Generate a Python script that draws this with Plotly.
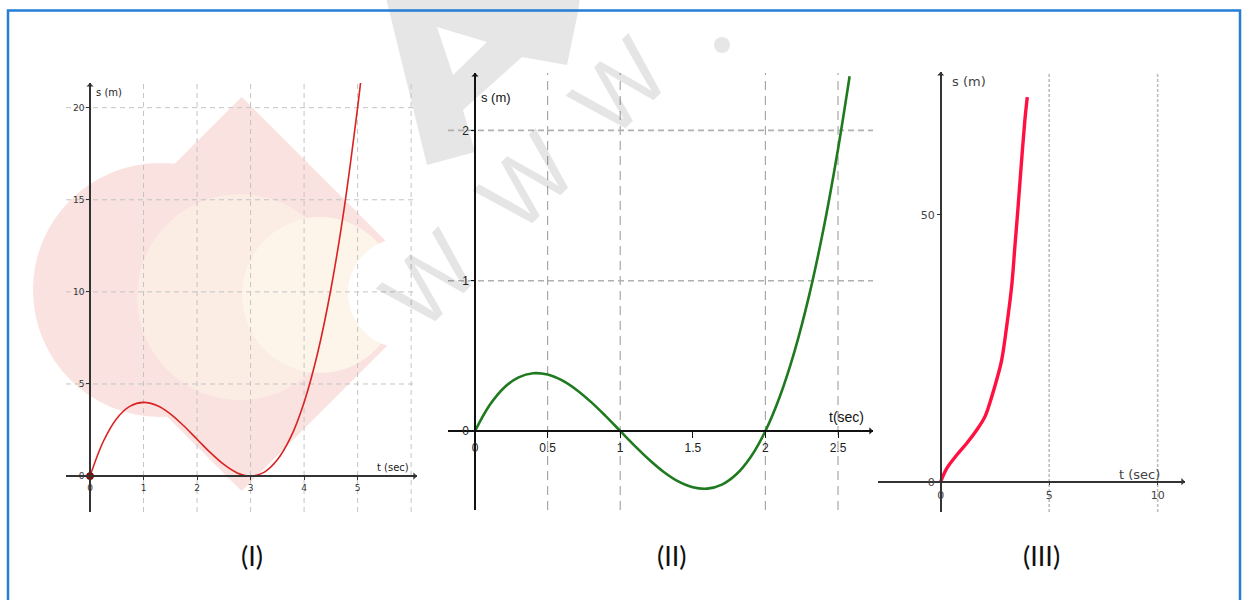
import plotly.graph_objects as go

# ---------------- data ----------------
# Panel I : s(t) in metres
t1 = [0, 0.25, 0.5, 0.75, 1, 1.25, 1.5, 1.75, 2, 2.25, 2.5, 2.75, 3, 3.25, 3.5, 3.75, 4, 4.25, 4.5, 4.75, 5, 5.06]
s1 = [0, 1.89, 3.13, 3.80, 4.0, 3.83, 3.38, 2.73, 2.0, 1.27, 0.63, 0.17, 0, 0.20, 0.88, 2.11, 4.0, 6.64, 10.13, 14.55, 20.0, 21.47]
x1_ticks = [0, 1, 2, 3, 4, 5]
x1_labels = ["0", "1", "2", "3", "4", "5"]
y1_ticks = [0, 5, 10, 15, 20]
y1_labels = ["0", "5", "10", "15", "20"]
x1_grid = [1, 2, 3, 4, 5, 6]
y1_grid = [5, 10, 15, 20]

# Panel II
t2 = [0, 0.1, 0.2, 0.3, 0.4, 0.5, 0.6, 0.7, 0.8, 0.9, 1.0, 1.1, 1.2, 1.3, 1.4, 1.5, 1.6, 1.7, 1.8, 1.9, 2.0, 2.1, 2.2, 2.3, 2.4, 2.5, 2.58]
s2 = [0, 0.171, 0.288, 0.357, 0.384, 0.375, 0.336, 0.273, 0.192, 0.099, 0, -0.099, -0.192, -0.273, -0.336, -0.375, -0.384, -0.357, -0.288, -0.171, 0, 0.231, 0.528, 0.897, 1.344, 1.875, 2.36]
x2_ticks = [0, 0.5, 1, 1.5, 2, 2.5]
x2_labels = ["0", "0.5", "1", "1.5", "2", "2.5"]
y2_ticks = [0, 1, 2]
y2_labels = ["0", "1", "2"]
x2_grid = [0.5, 1, 2, 2.5]
y2_grid = [1, 2]

# Panel III
t3 = [0, 0.28, 0.74, 1.2, 1.66, 2.04, 2.35, 2.58, 2.81, 3.04, 3.27, 3.42, 3.58, 3.73, 3.88, 3.99]
s3 = [0, 2.5, 5.0, 7.2, 9.7, 12.2, 15.9, 19.1, 22.8, 29.1, 36.6, 44.1, 52.2, 60.3, 67.8, 72.1]
x3_ticks = [0, 5, 10]
x3_labels = ["0", "5", "10"]
y3_ticks = [0, 50]
y3_labels = ["0", "50"]
x3_grid = [5, 10]

panel_names = ["(I)", "(II)", "(III)"]

# ---------------- layout helpers ----------------
W, H = 1243, 600
def px(x):
    return x / W
def py(y):
    return 1 - y / H

fig = go.Figure()

fig.add_trace(go.Scatter(x=t1, y=s1, mode="lines", line=dict(color="#d92323", width=1.6, shape="spline"),
                         xaxis="x", yaxis="y", showlegend=False, hoverinfo="skip"))
fig.add_trace(go.Scatter(x=[t1[0]], y=[s1[0]], mode="markers",
                         marker=dict(color="#c00000", size=7, line=dict(color="#7a0000", width=1)),
                         xaxis="x", yaxis="y", showlegend=False, hoverinfo="skip"))
fig.add_trace(go.Scatter(x=t2, y=s2, mode="lines", line=dict(color="#1f7a1f", width=2.6, shape="spline"),
                         xaxis="x2", yaxis="y2", showlegend=False, hoverinfo="skip"))
fig.add_trace(go.Scatter(x=t3, y=s3, mode="lines", line=dict(color="#ff1040", width=3.4, shape="spline"),
                         xaxis="x3", yaxis="y3", showlegend=False, hoverinfo="skip"))

tick_font1 = dict(family="DejaVu Sans", size=9, color="#333333")
tick_font2 = dict(family="Liberation Sans", size=12, color="#222222")
tick_font3 = dict(family="DejaVu Sans", size=11, color="#444444")

def ax(domain, rng, pos, tv, tt, font, lc, tl=3):
    return dict(domain=domain, range=rng, anchor="free", position=pos, showgrid=False, zeroline=False,
                showline=True, linecolor=lc, linewidth=1.5, ticks="outside", ticklen=tl, tickcolor=lc,
                tickvals=tv, ticktext=tt, tickfont=font, automargin=False, fixedrange=True)

fig.update_layout(
    width=W, height=H, margin=dict(l=0, r=0, t=0, b=0),
    paper_bgcolor="white", plot_bgcolor="rgba(0,0,0,0)",
    xaxis=ax([px(66), px(417)], [-0.449, 6.11], py(476), x1_ticks, x1_labels, tick_font1, "#333333"),
    yaxis=ax([py(512), py(83)], [-1.95, 21.34], px(90), y1_ticks, y1_labels, tick_font1, "#333333"),
    xaxis2=ax([px(448), px(873)], [-0.186, 2.741], py(431), x2_ticks, x2_labels, tick_font2, "#111111", 6),
    yaxis2=ax([py(510), py(73)], [-0.526, 2.382], px(475), y2_ticks, y2_labels, tick_font2, "#111111"),
    xaxis3=ax([px(878), px(1185)], [-2.89, 11.26], py(481.7), x3_ticks, x3_labels, tick_font3, "#333333"),
    yaxis3=ax([py(512), py(72)], [-5.68, 76.8], px(940.7), y3_ticks, y3_labels, tick_font3, "#333333"),
)

shapes = []
# watermark logo behind panel I
pink = "rgb(249,226,223)"
shapes.append(dict(type="circle", xref="paper", yref="paper", layer="below",
                   x0=px(33), x1=px(287), y0=py(417), y1=py(163), fillcolor=pink, line=dict(width=0)))
shapes.append(dict(type="path", xref="paper", yref="paper", layer="below",
                   path=f"M {px(241.7)},{py(97)} L {px(439)},{py(294)} L {px(241.7)},{py(491)} L {px(44)},{py(294)} Z",
                   fillcolor=pink, line=dict(width=0)))
shapes.append(dict(type="circle", xref="paper", yref="paper", layer="below",
                   x0=px(137), x1=px(343), y0=py(400), y1=py(194), fillcolor="rgb(251,236,228)", line=dict(width=0)))
shapes.append(dict(type="circle", xref="paper", yref="paper", layer="below",
                   x0=px(242), x1=px(398), y0=py(373), y1=py(217), fillcolor="rgb(253,244,234)", line=dict(width=0)))
shapes.append(dict(type="circle", xref="paper", yref="paper", layer="below",
                   x0=px(348), x1=px(458), y0=py(348), y1=py(238), fillcolor="white", line=dict(width=0)))

# gray watermark: big "A" logo outline (polygon with triangular hole) and dot
def pth(pts):
    return "M " + " L ".join(f"{px(a)},{py(b)}" for a, b in pts) + " Z"
outer = [(386, -2), (427, 165), (475, 152), (463, 110), (522, 57), (567, 65), (578, 12), (580, -2)]
hole = [(453, 75), (487, 42), (437, 27)]
shapes.append(dict(type="path", xref="paper", yref="paper", layer="below",
                   path=pth(outer) + " " + pth(hole), fillcolor="#e6e6e6", line=dict(width=0)))
shapes.append(dict(type="circle", xref="paper", yref="paper", layer="below",
                   x0=px(714), x1=px(730), y0=py(53), y1=py(37), fillcolor="#e6e6e6", line=dict(width=0)))

# grid lines from grid lists
def vgrid(vals, xr, yr, color, width, dash):
    for v in vals:
        shapes.append(dict(type="line", xref=xr, yref=yr + " domain", x0=v, x1=v, y0=0, y1=1,
                           layer="below", line=dict(color=color, width=width, dash=dash)))

def hgrid(vals, xr, yr, color, width, dash):
    for v in vals:
        shapes.append(dict(type="line", xref=xr + " domain", yref=yr, x0=0, x1=1, y0=v, y1=v,
                           layer="below", line=dict(color=color, width=width, dash=dash)))

vgrid(x1_grid, "x", "y", "#c4c4c4", 1, "5px,4px")
hgrid(y1_grid, "x", "y", "#c4c4c4", 1, "5px,4px")
vgrid(x2_grid, "x2", "y2", "#a8a8a8", 1.2, "9px,6px")
hgrid(y2_grid, "x2", "y2", "#b0b0b0", 1.6, "6px,4px")
vgrid(x3_grid, "x3", "y3", "#bdbdbd", 1.6, "3px,2px")

# outer blue frame
shapes.append(dict(type="rect", xref="paper", yref="paper", x0=px(8), x1=px(1240), y0=-0.05, y1=py(10.5),
                   line=dict(color="rgb(36,126,212)", width=2.5), fillcolor="rgba(0,0,0,0)", layer="above"))
fig.update_layout(shapes=shapes)

ann = []
# axis arrows
def arrow(xr, yr, x, y, dx, dy, color):
    ann.append(dict(xref=xr, yref=yr, x=x, y=y, ax=dx, ay=dy, axref="pixel", ayref="pixel", text="",
                    showarrow=True, arrowhead=1, arrowsize=1, arrowwidth=1.2, arrowcolor=color))

arrow("x", "y", 6.11, 0, -8, 0, "#333333")
arrow("x", "y", 0, 21.34, 0, 8, "#333333")
arrow("x2", "y2", 2.741, 0, -8, 0, "#111111")
arrow("x2", "y2", 0, 2.382, 0, 8, "#111111")
arrow("x3", "y3", 11.26, 0, -8, 0, "#333333")
arrow("x3", "y3", 0, 76.8, 0, 8, "#333333")

# axis titles
def txt(xr, yr, x, y, s, size, xanchor="center", color="#222222", family="DejaVu Sans"):
    ann.append(dict(xref=xr, yref=yr, x=x, y=y, text=s, showarrow=False, xanchor=xanchor, yanchor="middle",
                    font=dict(family=family, size=size, color=color)))

txt("x", "y", 0.08, 20.8, "s (m)", 10, "left")
txt("x", "y", 5.67, 0.45, "t (sec)", 10)
txt("x2", "y2", 0.03, 2.22, "s (m)", 13, "left", "#111111", "Liberation Sans")
txt("x2", "y2", 2.56, 0.095, "t(sec)", 14, "center", "#111111", "Liberation Sans")
txt("x3", "y3", 0.43, 75.0, "s (m)", 13, "left", "#444444")
txt("x3", "y3", 9.18, 1.3, "t (sec)", 13, "center", "#444444")

# panel labels
for name, xc in zip(panel_names, [252, 672, 1041]):
    ann.append(dict(xref="paper", yref="paper", x=px(xc), y=py(555), text=name, showarrow=False,
                    xanchor="center", yanchor="middle",
                    font=dict(family="Lato", size=27, color="#111111")))

# gray watermark letters
wm = "rgba(0,0,0,0.10)"
for (cx, cy) in [(430, 280), (527, 182), (620, 87)]:
    ann.append(dict(xref="paper", yref="paper", x=px(cx), y=py(cy), text="W", showarrow=False,
                    xanchor="center", yanchor="middle",
                    textangle=-45, font=dict(family="Liberation Sans", size=95, color=wm)))

fig.update_layout(annotations=ann)

fig.write_html("out.html", post_script="document.body.style.margin='0px';",
               config={"displayModeBar": False})
